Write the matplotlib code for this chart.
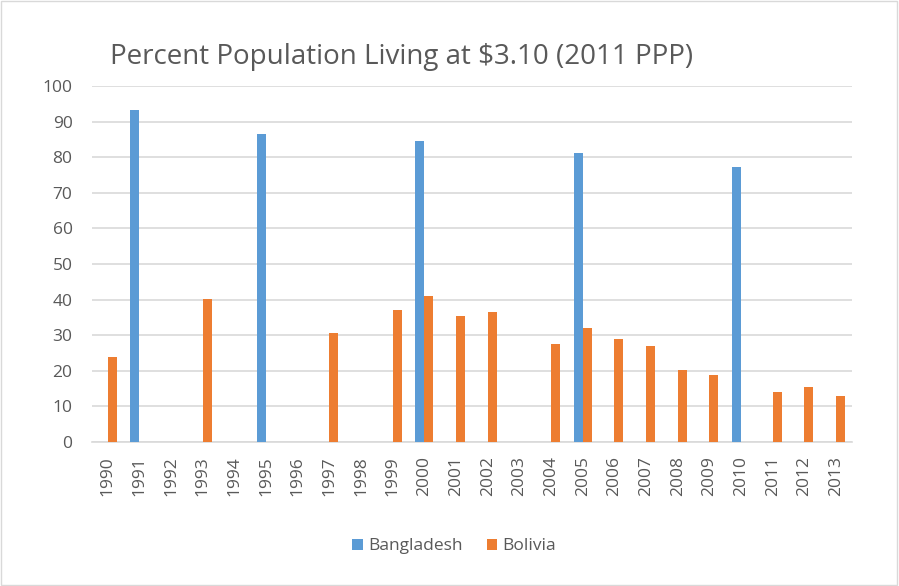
import matplotlib.pyplot as plt
import numpy as np

years = [str(y) for y in range(1990, 2014)]
bangladesh = {"1991": 93.2, "1995": 86.4, "2000": 84.5, "2005": 81.3, "2010": 77.2}
bolivia = {"1990": 23.9, "1993": 40.1, "1997": 30.5, "1999": 37.0, "2000": 41.0,
           "2001": 35.5, "2002": 36.4, "2004": 27.6, "2005": 31.9, "2006": 28.8,
           "2007": 27.0, "2008": 20.2, "2009": 18.7, "2011": 14.1, "2012": 15.4,
           "2013": 12.8}

plt.rcParams['font.family'] = ['Open Sans', 'DejaVu Sans']

fig = plt.figure(figsize=(8.99, 5.86), dpi=100)
ax = fig.add_axes([0.1023, 0.2457, 0.8454, 0.6075])

x = np.arange(len(years))
w = 0.284
b_vals = [bangladesh.get(y, 0) for y in years]
o_vals = [bolivia.get(y, 0) for y in years]
ax.bar(x - w / 2, b_vals, w, color='#5b9bd5', label='Bangladesh', zorder=3)
ax.bar(x + w / 2, o_vals, w, color='#ed7d31', label='Bolivia', zorder=3)

ax.set_xlim(-0.5, len(years) - 0.5)
ax.set_ylim(0, 100)
ax.set_yticks(range(0, 101, 10))
ax.set_xticks(x)
ax.set_xticklabels(years, rotation=90)
ax.tick_params(axis='both', length=0, colors='#595959', labelsize=12.5)
ax.tick_params(axis='x', pad=10)
ax.tick_params(axis='y', pad=14)
ax.grid(axis='y', color='#d9d9d9', linewidth=1.2, zorder=0)
for s in ['top', 'right', 'left']:
    ax.spines[s].set_visible(False)
ax.spines['bottom'].set_color('#d9d9d9')
ax.spines['bottom'].set_linewidth(1.2)

fig.text(0.122, 0.903, 'Percent Population Living at $3.10 (2011 PPP)',
         fontsize=20, color='#595959', va='center', ha='left')

fig.legend(loc='center', bbox_to_anchor=(0.505, 0.068), ncol=2, frameon=False,
           fontsize=12.5, labelcolor='#595959', handlelength=0.6, handleheight=0.6,
           handletextpad=0.3, columnspacing=1.4)

fig.patches.append(plt.Rectangle((0.001, 0.001), 0.997, 0.997, transform=fig.transFigure,
                                 fill=False, edgecolor='#d9d9d9', linewidth=1))

fig.savefig('out.png', dpi=100)
